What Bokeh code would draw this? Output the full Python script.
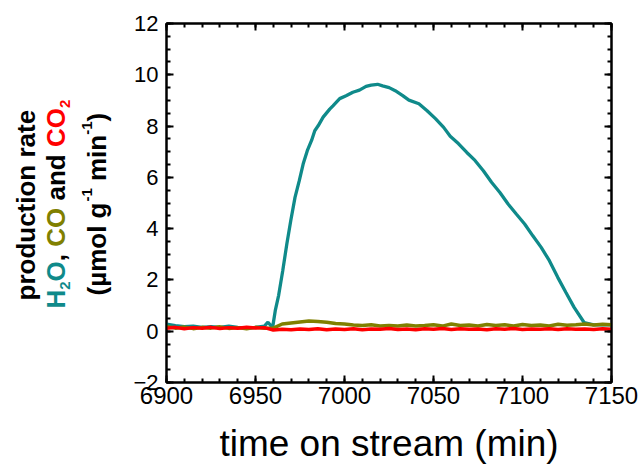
import math
from bokeh.plotting import figure
from bokeh.layouts import row
from bokeh.models import (Range1d, LinearAxis, SingleIntervalTicker, ColumnDataSource,
                          CustomLabelingPolicy)
from bokeh.core.properties import value
from bokeh.embed import file_html
from bokeh.resources import INLINE

# ---------------- data ----------------
time_h2o = [6900, 6905, 6910, 6915, 6920, 6925, 6930, 6935, 6940, 6945, 6950,
            6955, 6957, 6959.6, 6961.1, 6963, 6965.3, 6967.6, 6969.8, 6972.2,
            6974.6, 6976.8, 6979.1, 6981.5, 6983.3, 6985.2, 6988, 6991.7, 6993.5,
            6997.3, 7000.9, 7004.7, 7008.4, 7012.1, 7015, 7018.6, 7021.4, 7025.1,
            7028.5, 7032.5, 7036.2, 7041.8, 7046.4, 7051.1, 7055.7, 7059.4, 7064.1,
            7068.7, 7073.3, 7078.0, 7082.6, 7087.3, 7091.9, 7096.5, 7101.2, 7105.8,
            7110.5, 7115.1, 7119.8, 7124.4, 7129.0, 7134.6, 7140, 7145, 7150]
h2o = [0.28, 0.22, 0.18, 0.2, 0.15, 0.18, 0.15, 0.2, 0.15, 0.12, 0.15,
       0.2, 0.35, 0.14, 0.8, 1.4, 2.36, 3.4, 4.31, 5.22,
       5.87, 6.53, 7.04, 7.44, 7.82, 8.01, 8.35, 8.66, 8.79,
       9.07, 9.18, 9.32, 9.40, 9.55, 9.6, 9.63, 9.57, 9.5,
       9.38, 9.2, 9.01, 8.87, 8.6, 8.29, 7.95, 7.6, 7.31,
       6.97, 6.66, 6.26, 5.81, 5.41, 4.96, 4.57, 4.18, 3.72,
       3.27, 2.75, 2.1, 1.51, 0.93, 0.34, 0.25, 0.25, 0.25]

time_co = [6900, 6905, 6910, 6915, 6920, 6925, 6930, 6935, 6940, 6945, 6950,
           6955, 6960, 6965, 6970, 6975, 6980, 6985, 6990, 6995, 7000, 7005,
           7010, 7015, 7020, 7025, 7030, 7035, 7040, 7045, 7050, 7055, 7060,
           7065, 7070, 7075, 7080, 7085, 7090, 7095, 7100, 7105, 7110, 7115,
           7120, 7125, 7130, 7135, 7140, 7145, 7150]
co = [0.18, 0.12, 0.16, 0.10, 0.15, 0.12, 0.17, 0.11, 0.14, 0.10, 0.15,
      0.12, 0.12, 0.28, 0.32, 0.36, 0.40, 0.38, 0.35, 0.30, 0.28, 0.24,
      0.22, 0.25, 0.20, 0.22, 0.20, 0.24, 0.20, 0.22, 0.25, 0.20, 0.28,
      0.22, 0.24, 0.20, 0.26, 0.22, 0.25, 0.20, 0.26, 0.22, 0.24, 0.20,
      0.27, 0.23, 0.25, 0.28, 0.24, 0.27, 0.25]

time_co2 = time_co
co2 = [0.12, 0.15, 0.10, 0.14, 0.12, 0.15, 0.11, 0.14, 0.12, 0.15, 0.13,
       0.14, 0.05, 0.08, 0.06, 0.09, 0.07, 0.10, 0.06, 0.09, 0.07, 0.10,
       0.06, 0.09, 0.08, 0.11, 0.07, 0.09, 0.06, 0.10, 0.08, 0.11, 0.07,
       0.10, 0.08, 0.09, 0.06, 0.10, 0.08, 0.11, 0.07, 0.09, 0.08, 0.10,
       0.07, 0.10, 0.08, 0.09, 0.07, 0.10, 0.08]

x_title = "time on stream (min)"
y_title_line1 = "production rate"
y_title_line2 = [("H", "teal"), ("2", "teal_sub"), ("O", "teal"), (", ", "black"),
                 ("CO", "olive"), (" and ", "black"), ("CO", "red"), ("2", "red_sub")]
y_title_line3 = [("(µmol g", "black"), ("-1", "black_sup"), (" min", "black"),
                 ("-1", "black_sup"), (")", "black")]

TEAL = "#0F8A8A"
OLIVE = "#808000"
RED = "#FF0000"
FONT = "Liberation Sans"
H = 467
FRAME_TOP, FRAME_BOTTOM = 23, 382   # page px

# ---------------- main figure ----------------
p = figure(width=520, height=H, x_range=Range1d(6900, 7150), y_range=Range1d(-2, 12),
           output_backend="svg", toolbar_location=None,
           min_border_left=42, min_border_right=29, min_border_top=FRAME_TOP,
           min_border_bottom=H - FRAME_BOTTOM)
p.xgrid.visible = False
p.ygrid.visible = False
p.outline_line_color = "black"
p.outline_line_width = 2

p.line(time_h2o, h2o, line_color=TEAL, line_width=3.3)
p.line(time_co, co, line_color=OLIVE, line_width=3.5)
p.line(time_co2, co2, line_color=RED, line_width=3.5)

def style_axis(ax, show_labels=True, font_size="22px"):
    ax.axis_line_width = 2
    ax.major_tick_in = 7
    ax.major_tick_out = 0
    ax.minor_tick_in = 4
    ax.minor_tick_out = 0
    ax.major_tick_line_width = 2
    ax.minor_tick_line_width = 2
    ax.major_label_text_font = FONT
    ax.major_label_text_color = "black"
    ax.major_label_text_font_size = font_size
    if not show_labels:
        ax.major_label_policy = CustomLabelingPolicy(code="return new Set()")
        ax.major_label_standoff = 0

p.xaxis.ticker = SingleIntervalTicker(interval=50, num_minor_ticks=5)
p.yaxis.ticker = SingleIntervalTicker(interval=2, num_minor_ticks=4)
style_axis(p.xaxis[0], True, "24px")
style_axis(p.yaxis[0], True, "22px")
p.xaxis.major_label_standoff = 4
p.yaxis.major_label_standoff = 8
p.xaxis.axis_label = x_title
p.xaxis.axis_label_text_font = FONT
p.xaxis.axis_label_text_font_size = "37px"
p.xaxis.axis_label_text_font_style = "normal"
p.xaxis.axis_label_text_color = "black"
p.xaxis.axis_label_standoff = 16

top = LinearAxis(ticker=SingleIntervalTicker(interval=50, num_minor_ticks=5))
style_axis(top, False, "10px")
p.add_layout(top, "above")
right = LinearAxis(ticker=SingleIntervalTicker(interval=2, num_minor_ticks=4))
style_axis(right, False, "10px")
p.add_layout(right, "right")

# ---------------- rotated, multi-coloured y title (separate strip) ----------------
W = {" ": 278, "(": 333, ")": 333, ",": 278, "-": 333, "1": 556, "2": 556,
     "C": 722, "H": 722, "O": 778, "a": 556, "c": 556, "d": 611, "e": 556,
     "g": 611, "i": 278, "l": 278, "m": 889, "n": 611, "o": 611, "p": 611,
     "r": 389, "t": 333, "u": 611, "µ": 611}

def tw(s, size):
    return sum(W.get(c, 556) for c in s) * size / 1000.0

STRIP_W = 130
S = 26
STYLE = {"black": ("black", S, 0), "teal": (TEAL, S, 0), "olive": (OLIVE, S, 0),
         "red": (RED, S, 0), "teal_sub": (TEAL, 15, 9), "red_sub": (RED, 15, 9),
         "black_sup": ("black", 15, -10)}

cols = dict(x=[], y=[], text=[], color=[], size=[])
def add_line(pieces, base_x, start_y):
    cur = start_y
    for text, sty in pieces:
        color, size, shift = STYLE[sty]
        lead = text[:len(text) - len(text.lstrip())]
        body = text.strip()
        cols["x"].append(base_x + shift)
        cols["y"].append(H - (cur - tw(lead, size)))
        cols["text"].append(body)
        cols["color"].append(color)
        cols["size"].append(f"{size}px")
        cur -= tw(text, size)

# baseline positions (page px) of the three rotated lines
add_line([(y_title_line1, "black")], 25, 300)
add_line(y_title_line2, 55, 308)
add_line(y_title_line3, 96, 295)

ta = figure(width=STRIP_W, height=H, x_range=Range1d(0, STRIP_W),
            y_range=Range1d(H - FRAME_BOTTOM, H - FRAME_TOP),
            x_axis_type=None, y_axis_type=None, output_backend="svg",
            toolbar_location=None, min_border_left=0, min_border_right=0,
            min_border_top=FRAME_TOP, min_border_bottom=H - FRAME_BOTTOM)
ta.outline_line_color = None
ta.grid.visible = False
ta.text(x="x", y="y", text="text", text_color="color", text_font_size="size",
        angle=math.pi / 2, text_align="left", text_baseline="alphabetic",
        text_font=value(FONT), text_font_style="bold", source=ColumnDataSource(cols))

p.width = 640 - STRIP_W
p.min_border_left = 162 - STRIP_W
layout = row(ta, p)
open("out.html", "w").write(file_html(layout, INLINE))
